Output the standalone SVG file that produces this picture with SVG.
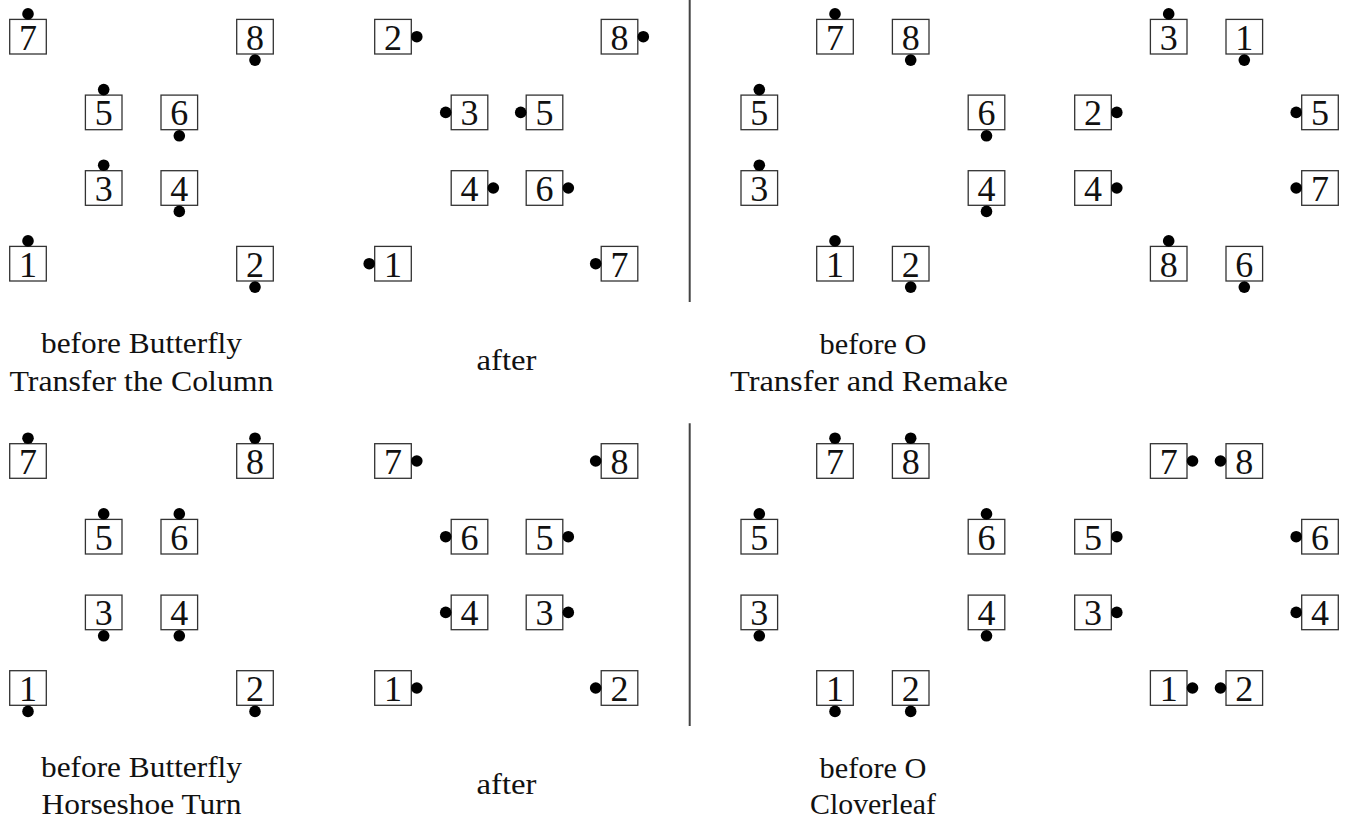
<svg xmlns="http://www.w3.org/2000/svg" xmlns:xlink="http://www.w3.org/1999/xlink" width="1348" height="820" viewBox="0 0 1348 820">
<style>
.bx{fill:#fff;stroke:#333;stroke-width:1.3}
.n{font-family:"Liberation Serif","Times New Roman",serif;font-size:36px;text-anchor:middle;fill:#111}
.d{fill:#000}
.lb{font-family:"Liberation Serif","Times New Roman",serif;font-size:29px;text-anchor:middle;fill:#111}
.sep{stroke:#444;stroke-width:2;fill:none}
</style>
<defs>
<rect id="box" class="bx" x="-18.3" y="-17.3" width="36.6" height="34.6"/>
<circle id="dT" class="d" cx="0" cy="-22.8" r="5.8"/>
<circle id="dB" class="d" cx="0" cy="23.4" r="5.8"/>
<circle id="dR" class="d" cx="23.8" cy="0" r="5.8"/>
<circle id="dL" class="d" cx="-23.8" cy="0" r="5.8"/>
</defs>
<g id="connectors">
<line class="sep" x1="689.7" y1="0" x2="689.7" y2="302"/>
<line class="sep" x1="689.7" y1="423.3" x2="689.7" y2="726"/>
</g>
<!-- Panel 1 top -->
<g id="p1t-7" transform="translate(28,36.7)"><use xlink:href="#box"/><text class="n" y="12.8">7</text><use xlink:href="#dT"/></g>
<g id="p1t-8" transform="translate(255,36.7)"><use xlink:href="#box"/><text class="n" y="12.8">8</text><use xlink:href="#dB"/></g>
<g id="p1t-5" transform="translate(103.7,112.4)"><use xlink:href="#box"/><text class="n" y="12.8">5</text><use xlink:href="#dT"/></g>
<g id="p1t-6" transform="translate(179.3,112.4)"><use xlink:href="#box"/><text class="n" y="12.8">6</text><use xlink:href="#dB"/></g>
<g id="p1t-3" transform="translate(103.7,188)"><use xlink:href="#box"/><text class="n" y="12.8">3</text><use xlink:href="#dT"/></g>
<g id="p1t-4" transform="translate(179.3,188)"><use xlink:href="#box"/><text class="n" y="12.8">4</text><use xlink:href="#dB"/></g>
<g id="p1t-1" transform="translate(28,263.7)"><use xlink:href="#box"/><text class="n" y="12.8">1</text><use xlink:href="#dT"/></g>
<g id="p1t-2" transform="translate(255,263.7)"><use xlink:href="#box"/><text class="n" y="12.8">2</text><use xlink:href="#dB"/></g>
<!-- Panel 2 top -->
<g id="p2t-2" transform="translate(393,36.7)"><use xlink:href="#box"/><text class="n" y="12.8">2</text><use xlink:href="#dR"/></g>
<g id="p2t-8" transform="translate(619.5,36.7)"><use xlink:href="#box"/><text class="n" y="12.8">8</text><use xlink:href="#dR"/></g>
<g id="p2t-3" transform="translate(469.5,112.4)"><use xlink:href="#box"/><text class="n" y="12.8">3</text><use xlink:href="#dL"/></g>
<g id="p2t-5" transform="translate(544.5,112.4)"><use xlink:href="#box"/><text class="n" y="12.8">5</text><use xlink:href="#dL"/></g>
<g id="p2t-4" transform="translate(469.5,188)"><use xlink:href="#box"/><text class="n" y="12.8">4</text><use xlink:href="#dR"/></g>
<g id="p2t-6" transform="translate(544.5,188)"><use xlink:href="#box"/><text class="n" y="12.8">6</text><use xlink:href="#dR"/></g>
<g id="p2t-1" transform="translate(393,263.7)"><use xlink:href="#box"/><text class="n" y="12.8">1</text><use xlink:href="#dL"/></g>
<g id="p2t-7" transform="translate(619.5,263.7)"><use xlink:href="#box"/><text class="n" y="12.8">7</text><use xlink:href="#dL"/></g>
<!-- Panel 3 top -->
<g id="p3t-7" transform="translate(835,36.7)"><use xlink:href="#box"/><text class="n" y="12.8">7</text><use xlink:href="#dT"/></g>
<g id="p3t-8" transform="translate(910.7,36.7)"><use xlink:href="#box"/><text class="n" y="12.8">8</text><use xlink:href="#dB"/></g>
<g id="p3t-5" transform="translate(759.3,112.4)"><use xlink:href="#box"/><text class="n" y="12.8">5</text><use xlink:href="#dT"/></g>
<g id="p3t-6" transform="translate(986.5,112.4)"><use xlink:href="#box"/><text class="n" y="12.8">6</text><use xlink:href="#dB"/></g>
<g id="p3t-3" transform="translate(759.3,188)"><use xlink:href="#box"/><text class="n" y="12.8">3</text><use xlink:href="#dT"/></g>
<g id="p3t-4" transform="translate(986.5,188)"><use xlink:href="#box"/><text class="n" y="12.8">4</text><use xlink:href="#dB"/></g>
<g id="p3t-1" transform="translate(835,263.7)"><use xlink:href="#box"/><text class="n" y="12.8">1</text><use xlink:href="#dT"/></g>
<g id="p3t-2" transform="translate(910.7,263.7)"><use xlink:href="#box"/><text class="n" y="12.8">2</text><use xlink:href="#dB"/></g>
<!-- Panel 4 top -->
<g id="p4t-3" transform="translate(1168.7,36.7)"><use xlink:href="#box"/><text class="n" y="12.8">3</text><use xlink:href="#dT"/></g>
<g id="p4t-1" transform="translate(1244.3,36.7)"><use xlink:href="#box"/><text class="n" y="12.8">1</text><use xlink:href="#dB"/></g>
<g id="p4t-2" transform="translate(1093,112.4)"><use xlink:href="#box"/><text class="n" y="12.8">2</text><use xlink:href="#dR"/></g>
<g id="p4t-5" transform="translate(1320,112.4)"><use xlink:href="#box"/><text class="n" y="12.8">5</text><use xlink:href="#dL"/></g>
<g id="p4t-4" transform="translate(1093,188)"><use xlink:href="#box"/><text class="n" y="12.8">4</text><use xlink:href="#dR"/></g>
<g id="p4t-7" transform="translate(1320,188)"><use xlink:href="#box"/><text class="n" y="12.8">7</text><use xlink:href="#dL"/></g>
<g id="p4t-8" transform="translate(1168.7,263.7)"><use xlink:href="#box"/><text class="n" y="12.8">8</text><use xlink:href="#dT"/></g>
<g id="p4t-6" transform="translate(1244.3,263.7)"><use xlink:href="#box"/><text class="n" y="12.8">6</text><use xlink:href="#dB"/></g>
<!-- Panel 1 bottom -->
<g id="p1b-7" transform="translate(28,461)"><use xlink:href="#box"/><text class="n" y="12.8">7</text><use xlink:href="#dT"/></g>
<g id="p1b-8" transform="translate(255,461)"><use xlink:href="#box"/><text class="n" y="12.8">8</text><use xlink:href="#dT"/></g>
<g id="p1b-5" transform="translate(103.7,536.7)"><use xlink:href="#box"/><text class="n" y="12.8">5</text><use xlink:href="#dT"/></g>
<g id="p1b-6" transform="translate(179.3,536.7)"><use xlink:href="#box"/><text class="n" y="12.8">6</text><use xlink:href="#dT"/></g>
<g id="p1b-3" transform="translate(103.7,612.4)"><use xlink:href="#box"/><text class="n" y="12.8">3</text><use xlink:href="#dB"/></g>
<g id="p1b-4" transform="translate(179.3,612.4)"><use xlink:href="#box"/><text class="n" y="12.8">4</text><use xlink:href="#dB"/></g>
<g id="p1b-1" transform="translate(28,688)"><use xlink:href="#box"/><text class="n" y="12.8">1</text><use xlink:href="#dB"/></g>
<g id="p1b-2" transform="translate(255,688)"><use xlink:href="#box"/><text class="n" y="12.8">2</text><use xlink:href="#dB"/></g>
<!-- Panel 2 bottom -->
<g id="p2b-7" transform="translate(393,461)"><use xlink:href="#box"/><text class="n" y="12.8">7</text><use xlink:href="#dR"/></g>
<g id="p2b-8" transform="translate(619.5,461)"><use xlink:href="#box"/><text class="n" y="12.8">8</text><use xlink:href="#dL"/></g>
<g id="p2b-6" transform="translate(469.5,536.7)"><use xlink:href="#box"/><text class="n" y="12.8">6</text><use xlink:href="#dL"/></g>
<g id="p2b-5" transform="translate(544.5,536.7)"><use xlink:href="#box"/><text class="n" y="12.8">5</text><use xlink:href="#dR"/></g>
<g id="p2b-4" transform="translate(469.5,612.4)"><use xlink:href="#box"/><text class="n" y="12.8">4</text><use xlink:href="#dL"/></g>
<g id="p2b-3" transform="translate(544.5,612.4)"><use xlink:href="#box"/><text class="n" y="12.8">3</text><use xlink:href="#dR"/></g>
<g id="p2b-1" transform="translate(393,688)"><use xlink:href="#box"/><text class="n" y="12.8">1</text><use xlink:href="#dR"/></g>
<g id="p2b-2" transform="translate(619.5,688)"><use xlink:href="#box"/><text class="n" y="12.8">2</text><use xlink:href="#dL"/></g>
<!-- Panel 3 bottom -->
<g id="p3b-7" transform="translate(835,461)"><use xlink:href="#box"/><text class="n" y="12.8">7</text><use xlink:href="#dT"/></g>
<g id="p3b-8" transform="translate(910.7,461)"><use xlink:href="#box"/><text class="n" y="12.8">8</text><use xlink:href="#dT"/></g>
<g id="p3b-5" transform="translate(759.3,536.7)"><use xlink:href="#box"/><text class="n" y="12.8">5</text><use xlink:href="#dT"/></g>
<g id="p3b-6" transform="translate(986.5,536.7)"><use xlink:href="#box"/><text class="n" y="12.8">6</text><use xlink:href="#dT"/></g>
<g id="p3b-3" transform="translate(759.3,612.4)"><use xlink:href="#box"/><text class="n" y="12.8">3</text><use xlink:href="#dB"/></g>
<g id="p3b-4" transform="translate(986.5,612.4)"><use xlink:href="#box"/><text class="n" y="12.8">4</text><use xlink:href="#dB"/></g>
<g id="p3b-1" transform="translate(835,688)"><use xlink:href="#box"/><text class="n" y="12.8">1</text><use xlink:href="#dB"/></g>
<g id="p3b-2" transform="translate(910.7,688)"><use xlink:href="#box"/><text class="n" y="12.8">2</text><use xlink:href="#dB"/></g>
<!-- Panel 4 bottom -->
<g id="p4b-7" transform="translate(1168.7,461)"><use xlink:href="#box"/><text class="n" y="12.8">7</text><use xlink:href="#dR"/></g>
<g id="p4b-8" transform="translate(1244.3,461)"><use xlink:href="#box"/><text class="n" y="12.8">8</text><use xlink:href="#dL"/></g>
<g id="p4b-5" transform="translate(1093,536.7)"><use xlink:href="#box"/><text class="n" y="12.8">5</text><use xlink:href="#dR"/></g>
<g id="p4b-6" transform="translate(1320,536.7)"><use xlink:href="#box"/><text class="n" y="12.8">6</text><use xlink:href="#dL"/></g>
<g id="p4b-3" transform="translate(1093,612.4)"><use xlink:href="#box"/><text class="n" y="12.8">3</text><use xlink:href="#dR"/></g>
<g id="p4b-4" transform="translate(1320,612.4)"><use xlink:href="#box"/><text class="n" y="12.8">4</text><use xlink:href="#dL"/></g>
<g id="p4b-1" transform="translate(1168.7,688)"><use xlink:href="#box"/><text class="n" y="12.8">1</text><use xlink:href="#dR"/></g>
<g id="p4b-2" transform="translate(1244.3,688)"><use xlink:href="#box"/><text class="n" y="12.8">2</text><use xlink:href="#dL"/></g>
<!-- Labels -->
<g id="labels">
<text class="lb" x="141.5" y="353" textLength="201" lengthAdjust="spacingAndGlyphs">before Butterfly</text>
<text class="lb" x="141.5" y="391" textLength="264" lengthAdjust="spacingAndGlyphs">Transfer the Column</text>
<text class="lb" x="506.5" y="370" textLength="60" lengthAdjust="spacingAndGlyphs">after</text>
<text class="lb" x="873" y="354" textLength="107" lengthAdjust="spacingAndGlyphs">before O</text>
<text class="lb" x="869" y="391" textLength="278" lengthAdjust="spacingAndGlyphs">Transfer and Remake</text>
<text class="lb" x="141.5" y="777" textLength="201" lengthAdjust="spacingAndGlyphs">before Butterfly</text>
<text class="lb" x="141.5" y="814" textLength="200" lengthAdjust="spacingAndGlyphs">Horseshoe Turn</text>
<text class="lb" x="506.5" y="794" textLength="60" lengthAdjust="spacingAndGlyphs">after</text>
<text class="lb" x="873" y="778" textLength="107" lengthAdjust="spacingAndGlyphs">before O</text>
<text class="lb" x="873" y="814" textLength="126" lengthAdjust="spacingAndGlyphs">Cloverleaf</text>
</g>
</svg>
